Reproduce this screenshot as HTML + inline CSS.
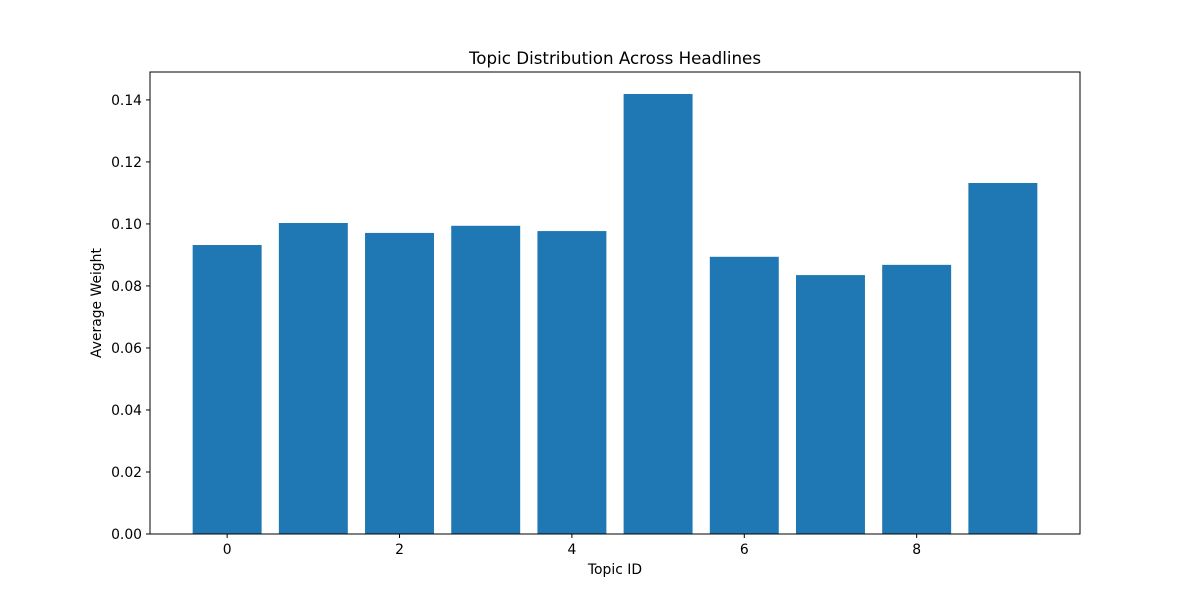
<!DOCTYPE html>
<html><head><meta charset="utf-8"><style>
body{margin:0;background:#fff;}
svg{display:block;font-family:"DejaVu Sans","Liberation Sans",sans-serif;}
</style></head><body>
<svg id="chart" width="1200" height="600"></svg>
<script>
const categories=[0,1,2,3,4,5,6,7,8,9];
const weights=[0.0932,0.1003,0.0971,0.0994,0.0977,0.1419,0.0894,0.0835,0.0868,0.1132];
const yTicks=[0,0.02,0.04,0.06,0.08,0.10,0.12,0.14];
const yTickLabels=["0.00","0.02","0.04","0.06","0.08","0.10","0.12","0.14"];
const xTicks=[0,2,4,6,8];
const L=150,R=1080,T=72,B=534;
const xMin=-0.895,xMax=9.895,yMin=0,yMax=0.149;
const sx=v=>L+(v-xMin)/(xMax-xMin)*(R-L);
const sy=v=>B-(v-yMin)/(yMax-yMin)*(B-T);
const svg=document.getElementById('chart');
const NS='http://www.w3.org/2000/svg';
function mk(tag,attrs,text){const e=document.createElementNS(NS,tag);for(const k in attrs)e.setAttribute(k,attrs[k]);if(text!==undefined)e.textContent=text;svg.appendChild(e);return e;}
categories.forEach((c,i)=>{
  const x0=sx(c-0.4),x1=sx(c+0.4);
  const r=mk('rect',{x:x0,y:sy(weights[i]),width:x1-x0,height:sy(0)-sy(weights[i]),fill:'#1f77b4'});
  
  
});
const frame=mk('rect',{x:L,y:T,width:R-L,height:B-T,fill:'none',stroke:'#000','stroke-width':1});


yTicks.forEach((v,i)=>{
  const y=sy(v);
  mk('line',{x1:L-4,x2:L,y1:y,y2:y,stroke:'#000'});
  const t=mk('text',{x:L-8,y:y+5,'text-anchor':'end','font-size':13.9},yTickLabels[i]);
  
  
});
xTicks.forEach(v=>{
  const x=sx(v);
  mk('line',{x1:x,x2:x,y1:B,y2:B+4,stroke:'#000'});
  const t=mk('text',{x:x,y:B+20,'text-anchor':'middle','font-size':13.9},String(v));
  
  
});
const title=mk('text',{x:(L+R)/2,y:64,'text-anchor':'middle','font-size':16.7},'Topic Distribution Across Headlines');


const xl=mk('text',{x:(L+R)/2,y:574,'text-anchor':'middle','font-size':13.9},'Topic ID');


const yl=mk('text',{x:101,y:(T+B)/2,'text-anchor':'middle','font-size':13.9,transform:'rotate(-90 101 '+((T+B)/2)+')'},'Average Weight');


</script>
</body></html>
